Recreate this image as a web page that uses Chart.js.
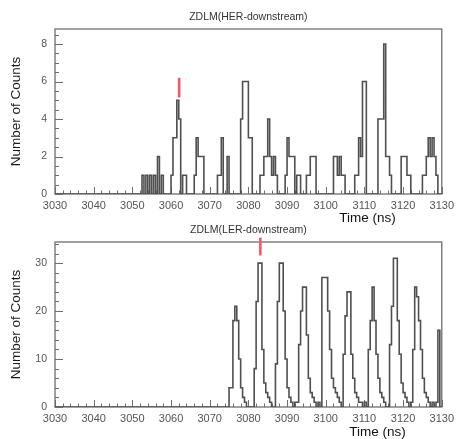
<!DOCTYPE html>
<html>
<head>
<meta charset="utf-8">
<title>ZDLM timing</title>
<script src="https://cdn.jsdelivr.net/npm/chart.js@4.4.1/dist/chart.umd.min.js"></script>
<style>
  html, body { margin: 0; padding: 0; background: #fff; }
  #wrap { position: relative; width: 459px; height: 439px; overflow: hidden; }
  #wrap canvas { position: absolute; left: 0; }
  #herChart { top: 0; }
  #lerChart { top: 220px; }
</style>
</head>
<body>
<div id="wrap">
  <canvas id="herChart" width="459" height="232"></canvas>
  <canvas id="lerChart" width="459" height="219"></canvas>
</div>
<script>
// histogram binning (ns)
const binStart = 3030;
const binWidth = 0.5;
const timeTicks = [3030, 3040, 3050, 3060, 3070, 3080, 3090, 3100, 3110, 3120, 3130];
const herYTicks = [0, 2, 4, 6, 8];
const lerYTicks = [0, 10, 20, 30];

// ZDLM(HER-downstream) counts per bin, one line = 10 ns
const herCounts = [
  0,0,0,0,0,0,0,0,0,0, 0,0,0,0,0,0,0,0,0,0,   // 3030
  0,0,0,0,0,0,0,0,0,0, 0,0,0,0,0,0,0,0,0,0,   // 3040
  0,0,0,0,0,0,1,0,1,0, 1,0,1,0,2,0,1,0,0,0,   // 3050
  0,1,3,3,5,4,0,1,1,0, 0,0,0,1,3,2,2,2,0,0,   // 3060
  0,0,0,0,0,1,1,3,0,0, 2,0,0,0,0,0,0,4,6,6,   // 3070
  6,3,3,0,0,0,0,1,1,2, 2,4,2,1,2,1,0,0,0,0,   // 3080
  1,3,2,2,2,0,1,1,0,0, 0,1,1,2,2,2,0,0,0,0,   // 3090
  0,0,0,0,0,2,2,1,2,1, 1,0,0,0,0,0,1,1,3,2,   // 3100
  6,6,0,0,0,0,0,0,4,4, 4,8,2,2,1,0,0,0,0,0,   // 3110
  2,2,2,1,1,0,0,0,0,0, 0,1,1,2,3,2,3,2,1,0    // 3120
];

// ZDLM(LER-downstream) counts per bin
const lerCounts = [
  0,0,0,0,0,0,0,0,0,0, 0,0,0,0,0,0,0,0,0,0,   // 3030
  0,0,0,0,0,0,0,0,0,0, 0,0,0,0,0,0,0,0,0,0,   // 3040
  0,0,0,0,0,0,0,0,0,0, 0,0,0,0,0,0,0,0,0,0,   // 3050
  0,0,0,0,0,0,0,0,0,0, 0,0,0,0,0,0,0,0,0,0,   // 3060
  0,0,0,0,0,0,0,0,0,0, 0,4,4,18,21,18,10,4,2,1,   // 3070
  0,0,0,0,8,22,30,30,12,5, 3,2,1,0,0,9,22,30,30,20,  // 3080
  10,4,2,1,0,1,1,13,20,25, 25,15,6,3,2,1,0,1,0,27,   // 3090
  27,27,20,12,6,4,3,2,1,0, 11,19,24,24,11,6,3,2,1,1, // 3100
  0,1,0,12,18,25,18,11,6,3, 2,1,0,0,13,21,31,31,18,11, // 3110
  5,3,2,1,0,1,12,25,23,18, 12,6,3,2,1,0,1,0,1,16     // 3120
];

// red reference markers (time, count range)
const herMarkTime = 3062.1;
const herMarkRange = [5.15, 6.2];
const lerMarkTime = 3083.1;
const lerMarkRange = [31.6, 35.3];

const FONT = "'Liberation Sans', Arial, sans-serif";

function histPoints(counts) {
  const pts = counts.map((c, i) => ({ x: binStart + i * binWidth, y: c }));
  pts.push({ x: binStart + counts.length * binWidth, y: 0 });
  return pts;
}

// ROOT-like frame, inner ticks and texts
const rootFrame = {
  id: 'rootFrame',
  beforeDatasetsDraw(chart, args, opts) {
    const ctx = chart.ctx;
    const a = chart.chartArea;
    const x = chart.scales.x, y = chart.scales.y;
    ctx.save();
    ctx.strokeStyle = '#6e6e6e';
    ctx.lineWidth = 1.3;
    ctx.strokeRect(a.left, a.top, a.right - a.left, a.bottom - a.top);
    ctx.beginPath();
    for (let i = 0; ; i++) {
      const v = x.min + i * opts.xMinor;
      if (v > x.max + 1e-9) break;
      const px = Math.round(x.getPixelForValue(v)) + 0.5;
      const len = i % opts.xMajorEvery === 0 ? 7 : 3.5;
      ctx.moveTo(px, a.bottom);
      ctx.lineTo(px, a.bottom - len);
    }
    for (let i = 0; ; i++) {
      const v = y.min + i * opts.yMinor;
      if (v > y.max + 1e-9) break;
      const py = Math.round(y.getPixelForValue(v)) + 0.5;
      const len = i % opts.yMajorEvery === 0 ? 8 : 4;
      ctx.moveTo(a.left, py);
      ctx.lineTo(a.left + len, py);
    }
    ctx.lineWidth = 1;
    ctx.stroke();
    ctx.restore();
  },
  afterDraw(chart, args, opts) {
    const ctx = chart.ctx;
    const a = chart.chartArea;
    ctx.save();
    ctx.textBaseline = 'middle';
    ctx.fillStyle = '#333';
    ctx.font = '10.5px ' + FONT;
    ctx.textAlign = 'center';
    ctx.fillText(opts.title, (a.left + a.right) / 2, a.top - 12);
    ctx.fillStyle = '#111';
    ctx.font = '13.5px ' + FONT;
    ctx.textAlign = 'right';
    ctx.fillText('Time (ns)', a.right - opts.xTitleInset, a.bottom + opts.xTitleDrop);
    ctx.restore();
  }
};

function makeChart(id, counts, yTicks, yMax, markTime, markRange, frameOpts, pad) {
  return new Chart(document.getElementById(id), {
    type: 'line',
    data: {
      datasets: [{
        data: histPoints(counts),
        stepped: 'after',
        borderColor: '#4f4f4f',
        borderWidth: 1.6,
        pointRadius: 0,
        fill: false
      }, {
        data: [{ x: markTime, y: markRange[0] }, { x: markTime, y: markRange[1] }],
        borderColor: '#ee5a66',
        borderWidth: 2.6,
        pointRadius: 0,
        clip: false
      }]
    },
    options: {
      responsive: false,
      animation: false,
      events: [],
      layout: { padding: pad },
      plugins: {
        legend: { display: false },
        tooltip: { enabled: false },
        rootFrame: frameOpts
      },
      scales: {
        x: {
          type: 'linear',
          min: binStart,
          max: 3130,
          grid: { display: false, drawTicks: false },
          border: { display: false },
          afterBuildTicks: (s) => { s.ticks = timeTicks.map(v => ({ value: v })); },
          afterFit: (s) => { s.height = 26; },
          ticks: {
            padding: 5, color: '#555', font: { family: FONT, size: 11 }, maxRotation: 0, autoSkip: false,
            callback: (v) => String(v)
          }
        },
        y: {
          min: 0,
          max: yMax,
          grid: { display: false, drawTicks: false },
          border: { display: false },
          afterBuildTicks: (s) => { s.ticks = yTicks.map(v => ({ value: v })); },
          afterFit: (s) => { s.width = 55; },
          ticks: { padding: 8, color: '#555', font: { family: FONT, size: 10.5 } },
          title: {
            display: true,
            text: 'Number of Counts',
            color: '#1a1a1a',
            font: { family: FONT, size: 13.5 },
            padding: { top: 8, bottom: 0 }
          }
        }
      }
    },
    plugins: [rootFrame]
  });
}

makeChart('herChart', herCounts, herYTicks, 8.8, herMarkTime, herMarkRange,
  { title: 'ZDLM(HER-downstream)', xMinor: 2, xMajorEvery: 5, yMinor: 0.5, yMajorEvery: 4, xTitleInset: 46, xTitleDrop: 24 },
  { top: 29, right: 13, bottom: 12, left: 0 });

makeChart('lerChart', lerCounts, lerYTicks, 34.4, lerMarkTime, lerMarkRange,
  { title: 'ZDLM(LER-downstream)', xMinor: 2, xMajorEvery: 5, yMinor: 2, yMajorEvery: 5, xTitleInset: 36, xTitleDrop: 25 },
  { top: 22, right: 13, bottom: 6, left: 0 });
</script>
</body>
</html>
